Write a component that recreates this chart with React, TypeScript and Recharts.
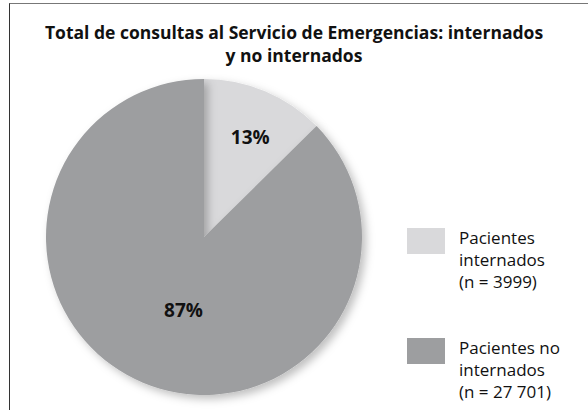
import { PieChart, Pie, Cell, Legend } from 'recharts';

const CATEGORIES = ['Pacientes internados', 'Pacientes no internados'];
const COUNTS = [3999, 27701];
const PERCENT_LABELS = ['13%', '87%'];
const LEGEND_LINES = [
  ['Pacientes', 'internados', '(n = 3999)'],
  ['Pacientes no', 'internados', '(n = 27 701)'],
];
const TITLE_LINES = ['Total de consultas al Servicio de Emergencias: internados', 'y no internados'];

const COLORS = ['#d9d9db', '#9d9ea0'];
const FONT = '"Open Sans", "Noto Sans", sans-serif';

const W = 588;
const H = 410;
const RADIAN = Math.PI / 180;

// label placement tweaks (radius fraction, angle nudge in degrees)
const LABEL_RADIUS = [0.7, 0.48];
const LABEL_NUDGE = [-2, 7];

const data = CATEGORIES.map((name, i) => ({ name, value: COUNTS[i] }));

function renderLabel(props: any) {
  const { cx, cy, midAngle, outerRadius, index } = props;
  const r = outerRadius * LABEL_RADIUS[index];
  const a = (midAngle + LABEL_NUDGE[index]) * RADIAN;
  const x = cx + r * Math.cos(a);
  const y = cy - r * Math.sin(a);
  return (
    <text
      x={x}
      y={y}
      textAnchor="middle"
      dominantBaseline="central"
      fill="#111"
      fontFamily={FONT}
      fontWeight={700}
      fontSize={19}
    >
      {PERCENT_LABELS[index]}
    </text>
  );
}

function LegendContent({ payload }: any) {
  return (
    <div style={{ fontFamily: FONT, fontSize: 17, color: '#111', textAlign: 'left' }}>
      {(payload || []).map((entry: any, i: number) => (
        <div key={entry.value} style={{ display: 'flex', alignItems: 'flex-start', marginBottom: i === 0 ? 44 : 0 }}>
          <div style={{ width: 38, height: 26, background: COLORS[i], marginTop: 1, marginRight: 14 }} />
          <div style={{ lineHeight: '22px' }}>
            {LEGEND_LINES[i].map((l) => (
              <div key={l}>{l}</div>
            ))}
          </div>
        </div>
      ))}
    </div>
  );
}

export default function App() {
  return (
    <div style={{ position: 'absolute', left: 0, top: 0, width: W, height: H, overflow: 'hidden', background: '#fff' }}>
      <div
        style={{
          position: 'absolute',
          left: 9,
          top: 3,
          width: 640,
          height: 460,
          borderTop: '1.5px solid #777',
          borderLeft: '1.5px solid #333',
        }}
      />
      <div
        style={{
          position: 'absolute',
          left: 0,
          top: 21,
          width: W,
          textAlign: 'center',
          fontFamily: FONT,
          fontWeight: 700,
          fontSize: 17.5,
          lineHeight: '23px',
          color: '#111',
        }}
      >
        {TITLE_LINES.map((t) => (
          <div key={t}>{t}</div>
        ))}
      </div>
      <div style={{ position: 'absolute', left: 0, top: 0 }}>
        <PieChart width={W} height={H} margin={{ top: 0, right: 0, bottom: 0, left: 0 }}>
          <defs>
            <filter id="pieShadow" x="-20%" y="-20%" width="140%" height="140%">
              <feDropShadow dx="4" dy="4" stdDeviation="4" floodColor="#000" floodOpacity="0.25" />
            </filter>
          </defs>
          <Pie
            data={data}
            dataKey="value"
            nameKey="name"
            cx={204}
            cy={237}
            outerRadius={158}
            startAngle={90}
            endAngle={-270}
            stroke="none"
            label={renderLabel}
            labelLine={false}
            isAnimationActive={false}
            style={{ filter: 'url(#pieShadow)' }}
          >
            {data.map((d, i) => (
              <Cell key={d.name} fill={COLORS[i]} />
            ))}
          </Pie>
          {/* center/middle so the legend reserves no room from the plot area */}
          <Legend
            layout="horizontal"
            verticalAlign="middle"
            align="center"
            content={<LegendContent />}
            wrapperStyle={{ left: 407, top: 227, width: 175 }}
          />
        </PieChart>
      </div>
    </div>
  );
}
